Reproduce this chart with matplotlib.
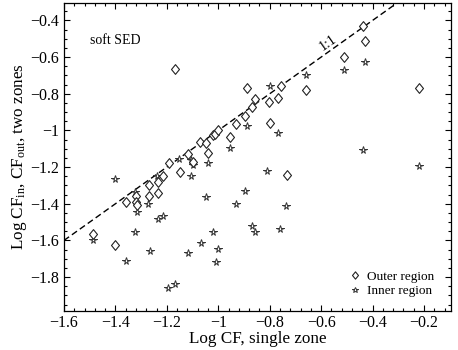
import matplotlib
matplotlib.use("Agg")
import matplotlib.pyplot as plt
from matplotlib.path import Path
from matplotlib.ticker import MultipleLocator

plt.rcParams['font.family'] = ['Liberation Serif', 'DejaVu Serif']
plt.rcParams['mathtext.fontset'] = 'custom'
plt.rcParams['mathtext.rm'] = 'Liberation Serif'
plt.rcParams['mathtext.it'] = 'Liberation Serif:italic'

outer_x = [-1.487, -1.40, -1.36, -1.32, -1.32, -1.315, -1.27, -1.27, -1.235, -1.235,
           -1.216, -1.19, -1.147, -1.17, -1.118, -1.098, -1.07, -1.046, -1.039, -1.02,
           -1.013, -1.0, -0.954, -0.93, -0.895, -0.889, -0.867, -0.859, -0.804, -0.80,
           -0.769, -0.757, -0.732, -0.657, -0.51, -0.437, -0.428, -0.22]
outer_y = [-1.567, -1.625, -1.39, -1.36, -1.39, -1.405, -1.297, -1.355, -1.343, -1.279,
           -1.25, -1.18, -1.228, -0.665, -1.128, -1.173, -1.064, -1.07, -1.124, -1.026,
           -1.018, -0.995, -1.036, -0.963, -0.92, -0.766, -0.872, -0.83, -0.845, -0.958,
           -0.823, -0.759, -1.245, -0.782, -0.60, -0.433, -0.51, -0.769]

inner_x = [-1.487, -1.40, -1.36, -1.325, -1.316, -1.325, -1.273, -1.267, -1.24, -1.235,
           -1.216, -1.196, -1.17, -1.153, -1.118, -1.105, -1.098, -1.105, -1.068, -1.046,
           -1.039, -1.02, -1.004, -1.0, -1.009, -0.954, -0.932, -0.895, -0.889, -0.867,
           -0.859, -0.81, -0.80, -0.767, -0.76, -0.736, -0.657, -0.51, -0.428, -0.437,
           -0.22]
inner_y = [-1.60, -1.264, -1.71, -1.337, -1.443, -1.555, -1.40, -1.66, -1.25, -1.483,
           -1.469, -1.857, -1.838, -1.155, -1.667, -1.16, -1.19, -1.246, -1.612, -1.361,
           -1.177, -1.556, -1.009, -1.648, -1.72, -1.097, -1.40, -1.328, -0.978, -1.524,
           -1.556, -1.22, -0.759, -1.015, -1.538, -1.41, -0.70, -0.67, -0.628, -1.109,
           -1.195]

one_to_one = [-1.6, -0.3]

diamond = Path([(0, 1), (0.82, 0), (0, -1), (-0.82, 0), (0, 1)],
               [Path.MOVETO, Path.LINETO, Path.LINETO, Path.LINETO, Path.CLOSEPOLY])

fig = plt.figure(figsize=(4.58, 3.5), dpi=100)
ax = fig.add_axes([0.1397, 0.1114, 0.845, 0.88])

ax.plot(one_to_one, one_to_one, color='black', lw=1.0, linestyle=(0, (4.5, 2.5)), zorder=1)
ax.plot(outer_x, outer_y, linestyle='none', marker=diamond, ms=7, mfc='white',
        mec='#222222', mew=0.8, label='Outer region', zorder=3)
ax.plot(inner_x, inner_y, linestyle='none', marker='*', ms=5.5, mfc='white',
        mec='#333333', mew=0.7, label='Inner region', zorder=2)

ax.set_xlim(-1.6, -0.095)
ax.set_ylim(-1.985, -0.305)
ax.xaxis.set_major_locator(MultipleLocator(0.2))
ax.xaxis.set_minor_locator(MultipleLocator(0.04))
ax.yaxis.set_major_locator(MultipleLocator(0.2))
ax.yaxis.set_minor_locator(MultipleLocator(0.05))
ax.tick_params(which='both', direction='in', top=True, right=True, labelsize=11.5)
ax.tick_params(which='major', length=4.5, width=0.8)
ax.tick_params(which='minor', length=2.5, width=0.8)
ax.tick_params(axis='x', pad=3)
for s in ax.spines.values():
    s.set_linewidth(0.9)

def fmt(v, pos):
    s = ('%g' % round(v, 2))
    return s.replace('-', '\u2212')
ax.xaxis.set_major_formatter(plt.FuncFormatter(fmt))
ax.yaxis.set_major_formatter(plt.FuncFormatter(fmt))

ax.set_xlabel('Log CF, single zone', fontsize=12.3, labelpad=0)
ax.set_ylabel(r'Log CF$_{\rm in}$, CF$_{\rm out}$, two zones', fontsize=12.3, labelpad=1)

ax.text(-1.5, -0.51, 'soft SED', fontsize=10, ha='left', va='center')
ax.text(-0.572, -0.522, '1:1', fontsize=10, ha='center', va='center', rotation=35)

leg = ax.legend(loc='lower right', bbox_to_anchor=(0.957, 0.045), frameon=False,
                fontsize=9.5, handlelength=0.8, handletextpad=0.5, borderaxespad=0,
                borderpad=0, labelspacing=0.15, markerscale=0.75)

fig.savefig('out.png', dpi=100)
